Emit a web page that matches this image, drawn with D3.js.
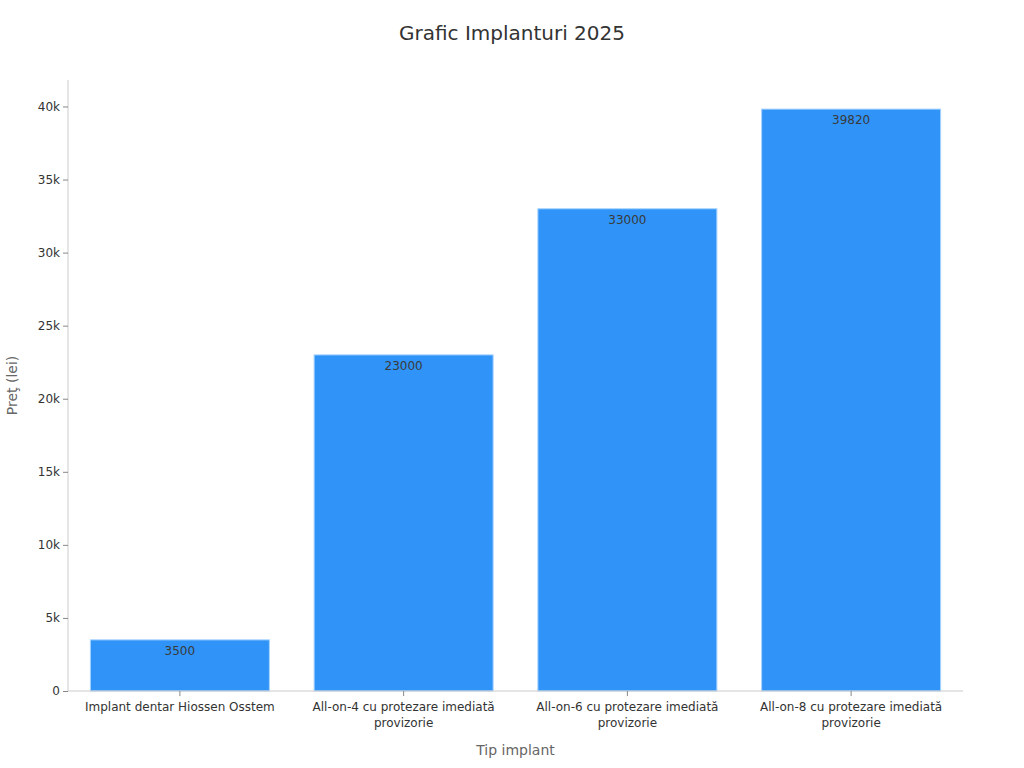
<!DOCTYPE html>
<html>
<head>
<meta charset="utf-8">
<script src="https://cdn.jsdelivr.net/npm/d3@7"></script>
<style>
  body { margin: 0; background: #fff; }
  text { font-family: "DejaVu Sans", sans-serif; }
</style>
</head>
<body>
<svg id="chart" width="1024" height="768"></svg>
<script>
// date grafic
const categories = [
  "Implant dentar Hiossen Osstem",
  "All-on-4 cu protezare imediată provizorie",
  "All-on-6 cu protezare imediată provizorie",
  "All-on-8 cu protezare imediată provizorie"
];
const prices = [3500, 23000, 33000, 39820];
const yTicks = [0, 5000, 10000, 15000, 20000, 25000, 30000, 35000, 40000];

const svg = d3.select("#chart");
const mLeft = 68, mRight = 963, mTop = 80, mBottom = 691;

const x = d3.scaleBand()
  .domain(categories)
  .range([mLeft, mRight])
  .paddingInner(0.2)
  .paddingOuter(0.1);

const y = d3.scaleLinear()
  .domain([0, d3.max(prices) * 1.05])
  .range([mBottom, mTop]);

// titlu
svg.append("text")
  .attr("x", 512).attr("y", 40)
  .attr("text-anchor", "middle")
  .style("font-size", "20px")
  .attr("fill", "#333")
  .text("Grafic Implanturi 2025");

// bare
svg.selectAll("rect.bar")
  .data(prices)
  .enter()
  .append("rect")
  .attr("class", "bar")
  .attr("x", (d, i) => x(categories[i]))
  .attr("y", d => y(d))
  .attr("width", x.bandwidth())
  .attr("height", d => mBottom - y(d))
  .attr("fill", "#2f93f8")
  .attr("stroke", "#a6d3ff")
  .attr("stroke-width", 1);

// etichete valori
svg.selectAll("text.val")
  .data(prices)
  .enter()
  .append("text")
  .attr("class", "val")
  .attr("x", (d, i) => x(categories[i]) + x.bandwidth() / 2)
  .attr("y", d => y(d) + 15)
  .attr("text-anchor", "middle")
  .attr("fill", "#3a3a3a")
  .style("font-size", "12px")
  .text(d => d);

// axa Y
const yAxis = svg.append("g")
  .attr("transform", `translate(${mLeft},0)`)
  .call(d3.axisLeft(y).tickValues(yTicks).tickSize(5).tickPadding(3)
    .tickFormat(d => d === 0 ? "0" : (d / 1000) + "k"));
yAxis.select(".domain").attr("stroke", "#ccc").attr("d", `M0,${mTop}V${mBottom}`);
yAxis.selectAll(".tick line").attr("stroke", "#888");
yAxis.selectAll(".tick text").attr("fill", "#333").style("font-size", "12px")
  .style("font-family", "'DejaVu Sans', sans-serif");

// axa X
const xAxis = svg.append("g")
  .attr("transform", `translate(0,${mBottom})`)
  .call(d3.axisBottom(x).tickSize(5).tickPadding(6));
xAxis.select(".domain").attr("stroke", "#ccc").attr("d", `M${mLeft},0H${mRight}`);
xAxis.selectAll(".tick line").attr("stroke", "#888");
xAxis.selectAll(".tick text")
  .attr("fill", "#333")
  .style("font-size", "12px")
  .style("font-family", "'DejaVu Sans', sans-serif")
  .each(function(d) {
    const t = d3.select(this);
    const m = d.match(/^(.*imediată) (provizorie)$/);
    if (m) {
      t.text(null);
      t.append("tspan").attr("x", 0).attr("dy", "0.71em").text(m[1]);
      t.append("tspan").attr("x", 0).attr("dy", "1.35em").text(m[2]);
      t.attr("dy", null);
    }
  });

// titluri axe
svg.append("text")
  .attr("x", (mLeft + mRight) / 2).attr("y", 755)
  .attr("text-anchor", "middle")
  .attr("fill", "#666")
  .style("font-size", "14px")
  .text("Tip implant");

svg.append("text")
  .attr("transform", `translate(17,${(mTop + mBottom) / 2}) rotate(-90)`)
  .attr("text-anchor", "middle")
  .attr("fill", "#666")
  .style("font-size", "14px")
  .text("Preţ (lei)");
</script>
</body>
</html>
